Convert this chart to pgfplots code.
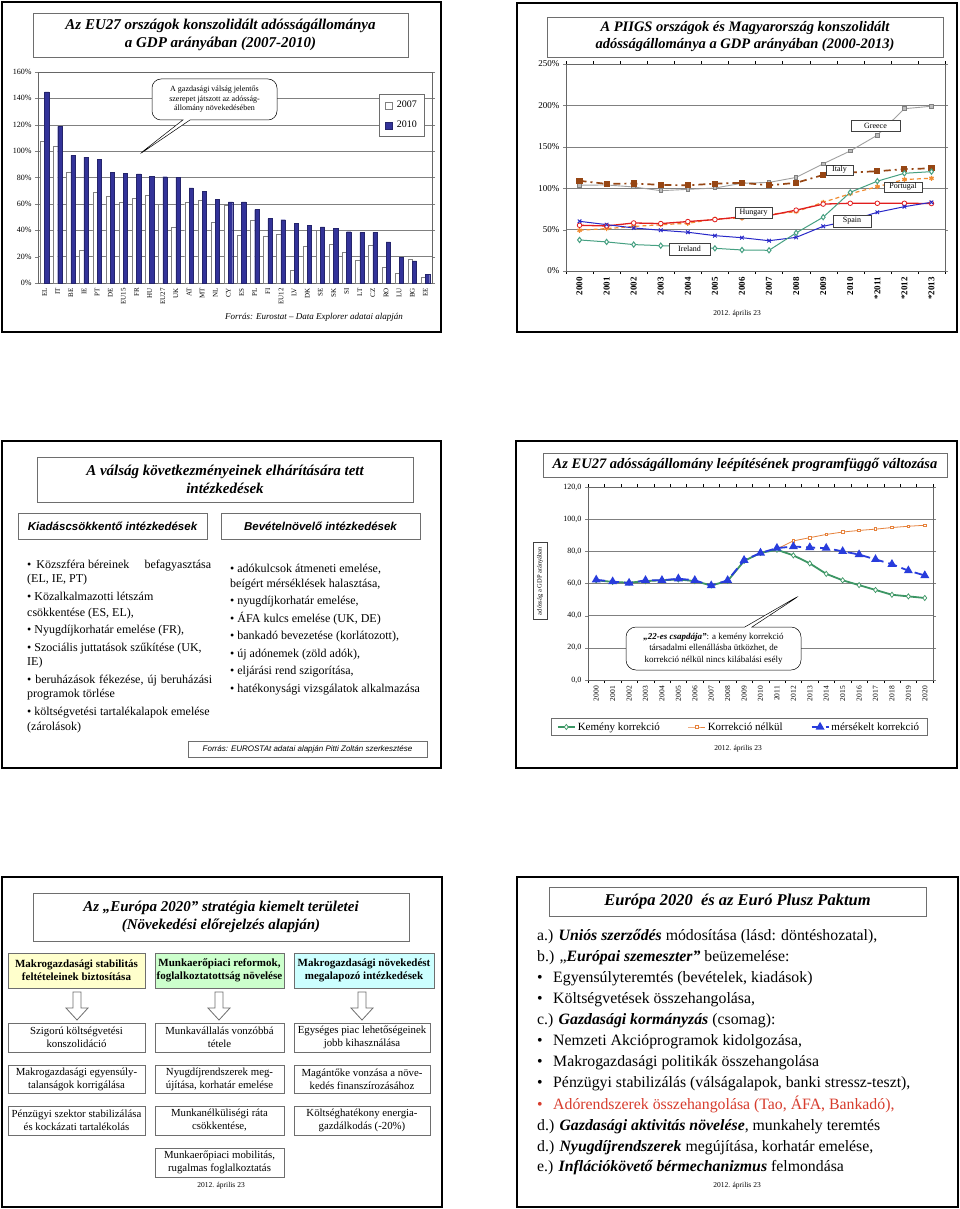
\documentclass[border=0pt]{standalone}
\usepackage{pgfplots}
\usepackage{pgfplotstable}
\pgfplotsset{compat=1.18}
\usepackage{fontspec}
\setmainfont{Liberation Serif}
\newfontfamily\arial{Liberation Sans}
\usetikzlibrary{shapes.callouts}
\newcommand\fs[2]{\fontsize{#1}{#2}\selectfont}
\definecolor{navy}{RGB}{51,51,153}
\definecolor{grbrown}{RGB}{150,70,20}
\definecolor{ptorange}{RGB}{240,140,50}
\definecolor{hured}{RGB}{225,30,30}
\definecolor{esblue}{RGB}{40,40,200}
\definecolor{ieteal}{RGB}{70,160,130}
\definecolor{grgray}{RGB}{160,160,160}
\definecolor{kgreen}{RGB}{60,150,100}
\definecolor{norange}{RGB}{230,130,60}
\definecolor{mblue}{RGB}{40,60,220}
\definecolor{boxgray}{RGB}{110,110,110}
\definecolor{hyellow}{RGB}{255,255,204}
\definecolor{hgreen}{RGB}{204,255,204}
\definecolor{hcyan}{RGB}{204,255,255}
\definecolor{adored}{RGB}{215,60,45}

\pgfplotstableread{
x a b
0 107.5 145.0
1 103.6 118.7
2 84.2 96.8
3 25.2 95.5
4 68.5 94.0
5 65.5 83.8
6 61.0 83.3
7 64.5 82.7
8 66.6 81.0
9 59.5 80.6
10 42.0 80.0
11 61.0 72.2
12 62.5 69.6
13 45.8 63.2
14 58.8 61.6
15 36.5 61.5
16 48.0 55.6
17 35.6 48.8
18 36.7 48.0
19 9.4 45.0
20 28.0 43.7
21 40.0 42.5
22 29.8 41.7
23 23.5 38.9
24 17.0 38.4
25 29.0 38.4
26 12.1 31.1
27 7.1 19.7
28 17.7 16.7
29 4.3 6.8
}\eudebt

\pgfplotstableread{
x gr it pt hu es ie
0 103.6 108.9 49.2 55.2 60.0 37.5
1 103.9 105.2 51.2 54.4 56.0 35.1
2 101.5 105.7 53.8 58.0 52.0 31.9
3 97.0 104.0 55.9 57.3 49.2 30.6
4 98.6 103.5 57.6 59.7 46.8 29.4
5 100.2 105.5 62.8 62.1 42.7 27.4
6 106.0 106.5 63.9 65.5 40.2 25.4
7 107.0 103.5 68.3 67.0 36.6 25.0
8 113.0 106.5 71.6 73.5 40.6 46.0
9 129.5 116.0 83.0 80.8 54.0 65.0
10 145.0 119.0 93.3 81.8 61.0 95.0
11 164.0 120.5 101.8 81.8 70.9 108.5
12 196.0 123.0 110.5 81.8 77.7 118.0
13 199.0 124.0 112.0 81.5 83.0 120.0
}\piigs

\pgfplotstableread{
x k n m
0 62.0 62.0 62.3
1 61.0 61.0 61.2
2 60.5 60.5 60.3
3 61.5 61.5 62.0
4 62.0 62.0 62.0
5 62.5 62.5 63.0
6 61.5 61.5 62.0
7 58.8 58.8 58.7
8 61.6 61.6 62.0
9 74.0 74.0 74.5
10 79.0 79.0 79.0
11 81.0 81.5 82.0
12 77.5 86.5 83.0
13 72.5 88.5 82.4
14 66.0 90.5 82.0
15 62.0 92.0 80.0
16 59.0 93.0 78.0
17 56.0 93.8 75.0
18 53.0 94.8 72.0
19 52.0 95.6 68.0
20 51.0 96.2 65.0
}\scen

\begin{document}
\begin{tikzpicture}
\begin{scope}[x=1pt,y=1pt]
\useasboundingbox (0,0) rectangle (960,-1209);
\fill[white] (0,0) rectangle (960,-1209);
\end{scope}

% ===================== Slide 1 axis =====================
\begin{axis}[at={(38pt,-283pt)}, anchor=south west, scale only axis,
  width=394pt, height=211pt,
  xmin=-0.5, xmax=29.5, ymin=0, ymax=160,
  ytick={0,20,...,160}, yticklabel={\pgfmathprintnumber{\tick}\%},
  /pgf/number format/assume math mode=true,
  xtick={0,...,29},
  xticklabels={EL,IT,BE,IE,PT,DE,EU15,FR,HU,EU27,UK,AT,MT,NL,CY,ES,PL,FI,EU12,LV,DK,SE,SK,SI,LT,CZ,RO,LU,BG,EE},
  xticklabel style={rotate=90, anchor=east, font=\fs{7}{8}, inner sep=2pt},
  yticklabel style={font=\fs{8}{9}},
  every major x tick/.append style={draw=none},
  tick align=outside, major tick length=3pt,
  ymajorgrids, grid style={gray, line width=0.5pt},
  axis line style={gray!80!black},
  ybar, bar width=4.3pt,
  legend style={at={(0.98,0.896)}, anchor=north east, font=\fs{10}{11}, draw=boxgray, row sep=8pt, inner xsep=5pt, inner ysep=5pt},
  legend cell align=left,
  legend image code/.code={\draw[#1] (0pt,-3.5pt) rectangle (7pt,3.5pt); \path (10pt,0pt);},
]
\addplot[fill=white, draw=gray, bar shift=-2.15pt] table[x=x,y=a] {\eudebt};
\addplot[fill=navy, draw=navy!70!black, bar shift=2.15pt] table[x=x,y=b] {\eudebt};
\legend{2007,2010}
\end{axis}

% ===================== Slide 2 axis =====================
\begin{axis}[at={(566pt,-271pt)}, anchor=south west, scale only axis,
  width=379pt, height=207pt,
  xmin=-0.5, xmax=13.5, ymin=0, ymax=250,
  ytick={0,50,...,250}, yticklabel={\pgfmathprintnumber{\tick}\%},
  /pgf/number format/assume math mode=true,
  xtick={0,...,13},
  xticklabels={2000,2001,2002,2003,2004,2005,2006,2007,2008,2009,2010,*2011,*2012,*2013},
  xticklabel style={rotate=90, anchor=east, font=\fs{9}{10}\bfseries, inner sep=3pt},
  yticklabel style={font=\fs{9}{10}},
  minor xtick={-0.5,0.5,...,13.5},
  every major x tick/.append style={draw=none},
  every minor x tick/.append style={black},
  tick align=outside, major tick length=3pt, minor tick length=3pt,
  ymajorgrids, grid style={gray, line width=0.5pt},
  axis line style={gray!80!black},
]
\addplot[color=grgray, line width=0.9pt, mark=square*, mark size=1.8pt, mark options={fill=grgray!70, draw=gray}] table[x=x,y=gr] {\piigs};
\addplot[color=grbrown, line width=1.7pt, dash pattern=on 7pt off 4pt on 2pt off 4pt, mark=square*, mark size=2.2pt, mark options={solid, fill=grbrown}] table[x=x,y=it] {\piigs};
\addplot[color=ptorange, line width=1.2pt, dash pattern=on 4pt off 3pt, mark=asterisk, mark size=2.5pt, mark options={solid}] table[x=x,y=pt] {\piigs};
\addplot[color=hured, line width=1.3pt, mark=*, mark size=2.3pt, mark options={fill=white, draw=hured, line width=0.8pt}] table[x=x,y=hu] {\piigs};
\addplot[color=esblue, line width=1pt, mark=x, mark size=2.5pt] table[x=x,y=es] {\piigs};
\addplot[color=ieteal, line width=1pt, mark=diamond*, mark size=2.6pt, mark options={fill=white, draw=ieteal}] table[x=x,y=ie] {\piigs};
\end{axis}

% ===================== Slide 4 axis =====================
\begin{axis}[at={(588pt,-680pt)}, anchor=south west, scale only axis,
  width=345pt, height=193pt,
  xmin=-0.5, xmax=20.5, ymin=0, ymax=120,
  ytick={0,20,...,120},
  yticklabel={\pgfmathprintnumber[fixed,fixed zerofill,precision=1,use comma]{\tick}},
  /pgf/number format/assume math mode=true,
  xtick={0,...,20},
  xticklabels={2000,2001,2002,2003,2004,2005,2006,2007,2008,2009,2010,2011,2012,2013,2014,2015,2016,2017,2018,2019,2020},
  xticklabel style={rotate=90, anchor=east, font=\fs{7.5}{8}, inner sep=3pt},
  yticklabel style={font=\fs{8}{9}},
  minor xtick={-0.5,0.5,...,20.5},
  every major x tick/.append style={draw=none},
  every minor x tick/.append style={black},
  tick align=outside, major tick length=3pt, minor tick length=3pt,
  ymajorgrids, grid style={gray, line width=0.5pt},
  axis line style={gray!80!black},
  legend style={at={(0.4377,-0.2435)}, anchor=center, legend columns=3, font=\fs{11}{12}, draw=boxgray, inner xsep=6pt, inner ysep=2pt,
    /tikz/every even column/.append style={column sep=26pt}},
  legend cell align=left,
]
\addplot[forget plot, color=norange, line width=0.8pt, mark=square*, mark size=1.3pt, mark options={fill=white, draw=norange}] table[x=x,y=n] {\scen};
\addplot[color=kgreen, line width=1.8pt, mark=diamond*, mark size=2.6pt, mark options={fill=white, draw=kgreen, line width=0.7pt}] table[x=x,y=k] {\scen};
\addlegendentry{Kemény korrekció}
\addlegendimage{color=norange, line width=0.8pt, mark=square*, mark size=1.3pt, mark options={fill=white, draw=norange}}
\addlegendentry{Korrekció nélkül}
\addplot[color=mblue, line width=1.8pt, dash pattern=on 9pt off 5pt, mark=triangle*, mark size=3.4pt, mark options={solid, fill=mblue}] table[x=x,y=m] {\scen};
\addlegendentry{mérsékelt korrekció}
\end{axis}

\begin{scope}[x=1pt,y=1pt]
% frames
\draw[line width=1.6pt] (2,-2) rectangle (441,-332);
\draw[line width=1.6pt] (517,-3) rectangle (957,-332);
\draw[line width=1.6pt] (2,-441) rectangle (441,-768);
\draw[line width=1.6pt] (516,-441) rectangle (957,-768);
\draw[line width=1.6pt] (2,-877) rectangle (442,-1207);
\draw[line width=1.6pt] (517,-877) rectangle (958,-1207);

% ---------- Slide 1 texts ----------
\draw[boxgray, line width=0.6pt] (33,-13) rectangle (408,-57);
\node[align=center, font=\fs{15}{18.5}\bfseries\itshape] at (220.5,-35) {Az EU27 országok konszolidált adósságállománya\\a GDP arányában (2007-2010)};
\node[rectangle callout, rounded corners=9pt, draw=black, fill=white, line width=0.5pt,
  minimum width=125pt, minimum height=41pt, callout absolute pointer={(137,-156)},
  align=center, font=\fs{8}{9.5}, inner sep=1pt] at (214.5,-99.5)
  {A gazdasági válság jelentős\\szerepet játszott az adósság-\\állomány növekedésében};
\node[font=\fs{9}{10}\itshape] at (314,-317) {Forrás: Eurostat -- Data Explorer adatai alapján};

% ---------- Slide 2 texts ----------
\draw[boxgray, line width=0.6pt] (547,-17) rectangle (943,-57);
\node[align=center, font=\fs{14.5}{17}\bfseries\itshape] at (745,-37) {A PIIGS országok és Magyarország konszolidált\\adósságállománya a GDP arányában (2000-2013)};
\tikzset{lab/.style={draw=black!75, fill=white, font=\fs{8}{9}, inner sep=1pt, line width=0.5pt}}
\node[lab, minimum width=49pt, minimum height=11pt] at (875.5,-125.5) {Greece};
\node[lab, minimum width=27pt, minimum height=10pt] at (839.5,-170) {Italy};
\node[lab, minimum width=38pt, minimum height=10pt] at (903,-187) {Portugal};
\node[lab, minimum width=37pt, minimum height=11pt] at (753.5,-212.5) {Hungary};
\node[lab, minimum width=38pt, minimum height=12pt] at (852,-221) {Spain};
\node[lab, minimum width=41pt, minimum height=12pt] at (689.5,-249) {Ireland};
\node[font=\fs{7.5}{8}] at (737,-314) {2012. április 23};

% ---------- Slide 3 ----------
\draw[boxgray, line width=0.6pt] (37,-457) rectangle (413,-502);
\node[align=center, font=\fs{15}{18}\bfseries\itshape] at (225,-479.5) {A válság következményeinek elhárítására tett\\intézkedések};
\draw[boxgray, line width=0.8pt] (18,-513) rectangle (207,-539);
\draw[boxgray, line width=0.8pt] (221,-513) rectangle (420,-539);
\node[font=\arial\fs{11.5}{13}\bfseries\itshape] at (112.5,-526) {Kiadáscsökkentő intézkedések};
\node[font=\arial\fs{11.5}{13}\bfseries\itshape] at (320.5,-526) {Bevételnövelő intézkedések};
\tikzset{ll/.style={anchor=base west, font=\fs{12}{14}, inner sep=0pt}}
\node[ll] at (27,-568) {\makebox[184pt][l]{•\, Közszféra béreinek\hfill befagyasztása}};
\node[ll] at (27,-582) {(EL, IE, PT)};
\node[ll] at (27,-600) {• Közalkalmazotti létszám};
\node[ll] at (27,-616) {csökkentése (ES, EL),};
\node[ll] at (27,-633) {• Nyugdíjkorhatár emelése (FR),};
\node[ll] at (27,-651) {• Szociális juttatások szűkítése (UK,};
\node[ll] at (27,-665) {IE)};
\node[ll] at (27,-683) {\makebox[185pt][s]{• beruházások fékezése, új beruházási}};
\node[ll] at (27,-697) {programok törlése};
\node[ll] at (27,-715) {• költségvetési tartalékalapok emelése};
\node[ll] at (27,-730) {(zárolások)};
\node[ll] at (230,-572) {• adókulcsok átmeneti emelése,};
\node[ll] at (230,-587) {beígért mérséklések halasztása,};
\node[ll] at (230,-604) {• nyugdíjkorhatár emelése,};
\node[ll] at (230,-622) {• ÁFA kulcs emelése (UK, DE)};
\node[ll] at (230,-639) {• bankadó bevezetése (korlátozott),};
\node[ll] at (230,-657) {• új adónemek (zöld adók),};
\node[ll] at (230,-674) {• eljárási rend szigorítása,};
\node[ll] at (230,-692) {• hatékonysági vizsgálatok alkalmazása};
\draw[boxgray, line width=0.6pt] (188,-741) rectangle (427,-757);
\node[font=\arial\fs{8}{9}\itshape] at (307.5,-749) {Forrás: EUROSTAt adatai alapján Pitti Zoltán szerkesztése};

% ---------- Slide 4 texts ----------
\draw[boxgray, line width=0.6pt] (543,-453) rectangle (947,-477);
\node[font=\fs{14.5}{17}\bfseries\itshape] at (745,-465) {Az EU27 adósságállomány leépítésének programfüggő változása};
\node[draw=black!75, fill=white, rotate=90, font=\fs{6.5}{7}, inner sep=1.5pt, minimum width=77pt, minimum height=14pt] at (540,-581) {adósság a GDP arányában};
\node[rectangle callout, rounded corners=10pt, draw=black, fill=white, line width=0.5pt,
  minimum width=175pt, minimum height=43pt, callout absolute pointer={(802,-594)},
  align=center, font=\fs{9}{11.5}, inner sep=1pt] at (713.5,-648.5)
  {{\bfseries\itshape „22-es csapdája”}: a kemény korrekció\\társadalmi ellenállásba ütközhet, de\\korrekció nélkül nincs kilábalási esély};
\node[font=\fs{7.5}{8}] at (738,-749) {2012. április 23};

% ---------- Slide 5 ----------
\draw[boxgray, line width=0.6pt] (33,-893) rectangle (409,-941);
\node[align=center, font=\fs{15}{18.5}\bfseries\itshape] at (221,-917) {Az „Európa 2020” stratégia kiemelt területei\\(Növekedési előrejelzés alapján)};
\filldraw[fill=hyellow, draw=boxgray, line width=0.8pt] (8,-953) rectangle (145,-988);
\filldraw[fill=hgreen, draw=boxgray, line width=0.8pt] (155,-953) rectangle (284,-988);
\filldraw[fill=hcyan, draw=boxgray, line width=0.8pt] (294,-953) rectangle (434,-988);
\node[align=center, font=\fs{11}{13}\bfseries] at (76.5,-970.5) {Makrogazdasági stabilitás\\feltételeinek biztosítása};
\node[align=center, font=\fs{11}{13}\bfseries] at (219.5,-970.5) {Munkaerőpiaci reformok,\\foglalkoztatottság növelése};
\node[align=center, font=\fs{11}{13}\bfseries] at (364,-970.5) {Makrogazdasági növekedést\\megalapozó intézkedések};
\foreach \cx in {77,219,362} {
  \draw[boxgray, line width=0.8pt] (\cx-4,-992) -- (\cx+4,-992) -- (\cx+4,-1008) -- (\cx+11,-1008) -- (\cx,-1020) -- (\cx-11,-1008) -- (\cx-4,-1008) -- cycle;
}
\tikzset{ib/.style={draw=boxgray, line width=0.8pt}}
\draw[ib] (8,-1023) rectangle (145,-1052);
\draw[ib] (8,-1065) rectangle (145,-1093);
\draw[ib] (8,-1106) rectangle (145,-1135);
\draw[ib] (155,-1023) rectangle (284,-1052);
\draw[ib] (155,-1065) rectangle (284,-1093);
\draw[ib] (155,-1106) rectangle (284,-1135);
\draw[ib] (155,-1148) rectangle (284,-1177);
\draw[ib] (294,-1023) rectangle (430,-1052);
\draw[ib] (294,-1065) rectangle (430,-1093);
\draw[ib] (294,-1106) rectangle (430,-1135);
\tikzset{it/.style={align=center, font=\fs{10.8}{13}, inner sep=0pt}}
\node[it] at (76.5,-1037.5) {Szigorú költségvetési\\konszolidáció};
\node[it] at (76.5,-1079) {Makrogazdasági egyensúly-\\talanságok korrigálása};
\node[it] at (76.5,-1120.5) {Pénzügyi szektor stabilizálása\\és kockázati tartalékolás};
\node[it] at (219.5,-1037.5) {Munkavállalás vonzóbbá\\tétele};
\node[it] at (219.5,-1079) {Nyugdíjrendszerek meg-\\újítása, korhatár emelése};
\node[it] at (219.5,-1120.5) {Munkanélküliségi ráta\\csökkentése,};
\node[it] at (219.5,-1162.5) {Munkaerőpiaci mobilitás,\\rugalmas foglalkoztatás};
\node[it] at (362,-1037.5) {Egységes piac lehetőségeinek\\jobb kihasználása};
\node[it] at (362,-1079) {Magántőke vonzása a növe-\\kedés finanszírozásához};
\node[it] at (362,-1120.5) {Költséghatékony energia-\\gazdálkodás (-20\%)};
\node[font=\fs{7.5}{8}] at (221,-1186) {2012. április 23};

% ---------- Slide 6 ----------
\draw[boxgray, line width=0.6pt] (549,-887) rectangle (926,-916);
\node[font=\fs{16.5}{19}\bfseries\itshape] at (737.5,-901.5) {Európa 2020\ \ és az Euró Plusz Paktum};
\tikzset{pl/.style={anchor=base west, font=\fs{15.8}{17}, inner sep=0pt}}
\newcommand\bi[1]{\textbf{\textit{#1}}}
\node[pl] at (537,-940) {a.) \bi{Uniós szerződés} módosítása (lásd: döntéshozatal),};
\node[pl] at (537,-961.5) {b.) „\bi{Európai szemeszter”} beüzemelése:};
\node[pl] at (537,-982.3) {•};
\node[pl] at (553,-982.3) {Egyensúlyteremtés (bevételek, kiadások)};
\node[pl] at (537,-1003.3) {•};
\node[pl] at (553,-1003.3) {Költségvetések összehangolása,};
\node[pl] at (537,-1024.3) {c.) \bi{Gazdasági kormányzás} (csomag):};
\node[pl] at (537,-1045.3) {•};
\node[pl] at (553,-1045.3) {Nemzeti Akcióprogramok kidolgozása,};
\node[pl] at (537,-1066.3) {•};
\node[pl] at (553,-1066.3) {Makrogazdasági politikák összehangolása};
\node[pl] at (537,-1087.7) {•};
\node[pl] at (553,-1087.7) {Pénzügyi stabilizálás (válságalapok, banki stressz-teszt),};
\node[pl, text=adored] at (537,-1109.3) {•};
\node[pl, text=adored] at (553,-1109.3) {Adórendszerek összehangolása (Tao, ÁFA, Bankadó),};
\node[pl] at (537,-1130) {d.) \bi{Gazdasági aktivitás növelése}, munkahely teremtés};
\node[pl] at (537,-1151) {d.) \bi{Nyugdíjrendszerek} megújítása, korhatár emelése,};
\node[pl] at (537,-1171.7) {e.) \bi{Inflációkövető bérmechanizmus} felmondása};
\node[font=\fs{7.5}{8}] at (737,-1186) {2012. április 23};
\end{scope}
\end{tikzpicture}
\end{document}
